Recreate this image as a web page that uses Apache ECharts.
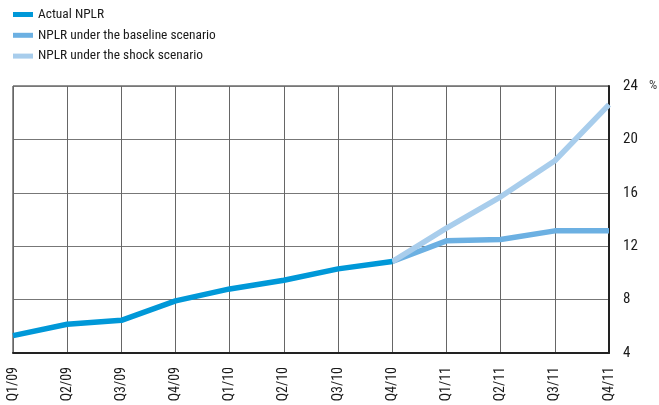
<!DOCTYPE html>
<html><head><meta charset="utf-8">
<script src="https://cdn.jsdelivr.net/npm/echarts@6/dist/echarts.min.js"></script>
<style>html,body{margin:0;padding:0;background:#fff}#c{width:659px;height:405px}</style>
</head><body><div id="c"></div>
<script>
const categories = ['Q1/09','Q2/09','Q3/09','Q4/09','Q1/10','Q2/10','Q3/10','Q4/10','Q1/11','Q2/11','Q3/11','Q4/11'];
const actualNPLR = [5.3, 6.15, 6.45, 7.9, 8.8, 9.45, 10.3, 10.85, null, null, null, null];
const baselineNPLR = [null, null, null, null, null, null, null, 10.85, 12.4, 12.5, 13.15, 13.15];
const shockNPLR = [null, null, null, null, null, null, null, 10.85, 13.35, 15.7, 18.4, 22.6];
const yTicks = [4, 8, 12, 16, 20, 24];

const FONT = "'Roboto Condensed', sans-serif";
const chart = echarts.init(document.getElementById('c'), null, {renderer:'canvas'});
chart.setOption({
  animation: false,
  textStyle: {fontFamily: FONT},
  legend: {
    orient: 'vertical', left: 13, top: 8, itemGap: 7.8, padding: 0,
    icon: 'rect', itemWidth: 20, itemHeight: 5,
    textStyle: {fontFamily: FONT, fontSize: 13.4, color: '#1a1a1a'},
    data: ['Actual NPLR', 'NPLR under the baseline scenario', 'NPLR under the shock scenario']
  },
  grid: {left: 13, right: 50, top: 86, bottom: 52, show: true, borderColor: '#222', borderWidth: 1},
  xAxis: {
    type: 'category', data: categories, boundaryGap: false,
    axisLine: {lineStyle: {color: '#222', width: 2}},
    axisTick: {show: false},
    axisLabel: {rotate: 90, margin: 14, fontSize: 14, color: '#1a1a1a', fontFamily: FONT},
    splitLine: {show: true, lineStyle: {color: '#666', width: 1}}
  },
  yAxis: {
    type: 'value', position: 'right', min: yTicks[0], max: yTicks[yTicks.length-1], interval: 4,
    axisLine: {show: true, lineStyle: {color: '#222', width: 2}},
    axisTick: {show: false},
    axisLabel: {margin: 14, fontSize: 15, color: '#1a1a1a', fontFamily: FONT},
    splitLine: {show: true, lineStyle: {color: '#777', width: 1}}
  },
  graphic: [{type: 'text', left: 649, top: 79, style: {text: '%', fontSize: 13, fill: '#444', fontFamily: FONT}}],
  series: [
    {name: 'Actual NPLR', type: 'line', data: actualNPLR, symbol: 'none', z: 4,
     lineStyle: {color: '#0098d8', width: 5.5}, itemStyle: {color: '#0098d8'}},
    {name: 'NPLR under the baseline scenario', type: 'line', data: baselineNPLR, symbol: 'none', z: 2,
     lineStyle: {color: '#6cb0e2', width: 5.5}, itemStyle: {color: '#6cb0e2'}},
    {name: 'NPLR under the shock scenario', type: 'line', data: shockNPLR, symbol: 'none', z: 3,
     lineStyle: {color: '#a8cdec', width: 5.5}, itemStyle: {color: '#a8cdec'}}
  ]
});
</script></body></html>
